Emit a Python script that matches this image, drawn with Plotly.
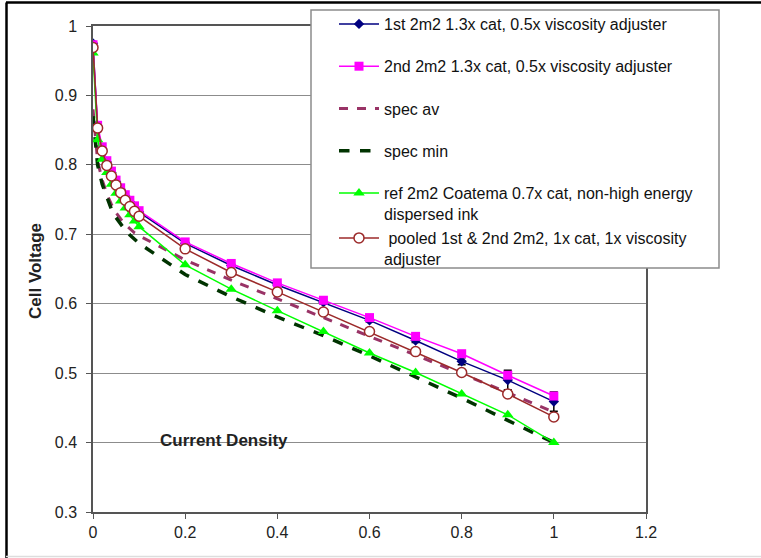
import plotly.graph_objects as go

# ---------------- data ----------------
x_vals = [0, 0.01, 0.02, 0.03, 0.04, 0.05, 0.06, 0.07, 0.08, 0.09, 0.1,
          0.2, 0.3, 0.4, 0.5, 0.6, 0.7, 0.8, 0.9, 1.0]

first_2m2 = [0.975, 0.852, 0.823, 0.804, 0.789, 0.776, 0.765, 0.755, 0.747, 0.739, 0.732,
             0.687, 0.655, 0.627, 0.602, 0.576, 0.547, 0.517, 0.490, 0.459]
first_err = [0, 0, 0, 0, 0, 0, 0, 0, 0, 0, 0,
             0.002, 0.002, 0.002, 0.002, 0.002, 0.003, 0.005, 0.014, 0.014]

second_2m2 = [0.973, 0.857, 0.826, 0.806, 0.791, 0.778, 0.767, 0.757, 0.749, 0.741, 0.734,
              0.689, 0.658, 0.630, 0.605, 0.580, 0.553, 0.528, 0.497, 0.467]

spec_av = [0.88, 0.806, 0.778, 0.758, 0.743, 0.731, 0.722, 0.714, 0.708, 0.702, 0.698,
           0.663, 0.634, 0.607, 0.580, 0.553, 0.527, 0.500, 0.472, 0.444]

spec_min = [0.87, 0.800, 0.772, 0.752, 0.736, 0.724, 0.714, 0.706, 0.699, 0.693, 0.687,
            0.642, 0.610, 0.581, 0.554, 0.525, 0.495, 0.464, 0.432, 0.400]

ref_coatema = [0.961, 0.836, 0.808, 0.789, 0.772, 0.759, 0.748, 0.738, 0.728, 0.719, 0.711,
               0.656, 0.621, 0.590, 0.560, 0.529, 0.501, 0.470, 0.440, 0.400]

pooled = [0.969, 0.853, 0.820, 0.799, 0.784, 0.771, 0.760, 0.749, 0.740, 0.733, 0.726,
          0.679, 0.645, 0.617, 0.588, 0.560, 0.531, 0.501, 0.470, 0.437]

names = [
    "1st 2m2 1.3x cat, 0.5x viscosity adjuster",
    "2nd 2m2 1.3x cat, 0.5x viscosity adjuster",
    "spec av",
    "spec min",
    "ref 2m2 Coatema 0.7x cat, non-high energy<br>dispersed ink",
    " pooled 1st & 2nd 2m2, 1x cat, 1x viscosity<br>adjuster",
]

x_ticks = [0, 0.2, 0.4, 0.6, 0.8, 1, 1.2]
y_ticks = [0.3, 0.4, 0.5, 0.6, 0.7, 0.8, 0.9, 1]

# ---------------- figure ----------------
fig = go.Figure()

fig.add_trace(go.Scatter(
    x=x_vals, y=first_2m2, name=names[0], mode="lines+markers",
    line=dict(color="#000080", width=1.5),
    marker=dict(symbol="diamond", size=8, color="#000080"),
    error_y=dict(type="data", array=first_err, color="#000000", thickness=1.5, width=4),
    legendgroup="g1", legend="legend"))

fig.add_trace(go.Scatter(
    x=x_vals, y=second_2m2, name=names[1], mode="lines+markers",
    line=dict(color="#FF00FF", width=1.5),
    marker=dict(symbol="square", size=9, color="#FF00FF"),
    legendgroup="g2", legend="legend"))

fig.add_trace(go.Scatter(
    x=x_vals, y=spec_av, name=names[2], mode="lines",
    line=dict(color="#993366", width=3, dash="dash"),
    legendgroup="g3", legend="legend"))

fig.add_trace(go.Scatter(
    x=x_vals, y=spec_min, name=names[3], mode="lines",
    line=dict(color="#003300", width=3.5, dash="dash"),
    legendgroup="g4", legend="legend"))

fig.add_trace(go.Scatter(
    x=x_vals, y=ref_coatema, name=names[4], mode="lines+markers",
    line=dict(color="#00FF00", width=1.5),
    marker=dict(symbol="triangle-up", size=10, color="#00FF00"),
    legendgroup="g5", legend="legend"))

fig.add_trace(go.Scatter(
    x=x_vals, y=pooled, name=names[5], mode="lines+markers",
    line=dict(color="#9C2A2A", width=1.5),
    marker=dict(symbol="circle", size=10, color="#FFFFFF",
                line=dict(color="#9C2A2A", width=1.5)),
    legendgroup="g6", legend="legend2"))

L, R, T, B = 93, 115, 26, 46
W, H = 761, 558
pw, ph = W - L - R, H - T - B


def px(xpix):
    return (xpix - L) / pw


def py(ypix):
    return (H - B - ypix) / ph


axis_common = dict(
    showline=True, linecolor="#555555", linewidth=1.5, mirror=True,
    ticks="outside", ticklen=5, tickcolor="#555555",
    tickfont=dict(family="Arial, Liberation Sans", size=16, color="#222222"),
    zeroline=False,
)

fig.update_xaxes(range=[0, 1.2], tickvals=x_ticks, showgrid=False, **axis_common)
fig.update_yaxes(range=[0.3, 1], tickvals=y_ticks, showgrid=True, gridcolor="#8c8c8c",
                 gridwidth=1, ticklabelstandoff=6, **axis_common)

legend_font = dict(family="Arial, Liberation Sans", size=16, color="#111111")

fig.update_layout(
    width=W, height=H,
    margin=dict(l=L, r=R, t=T, b=B, autoexpand=False),
    plot_bgcolor="#FFFFFF", paper_bgcolor="#FFFFFF",
    showlegend=True,
    legend=dict(x=px(334), y=py(7), xanchor="left", yanchor="top",
                bgcolor="rgba(0,0,0,0)", borderwidth=0, font=legend_font,
                tracegroupgap=18.5, valign="top", itemwidth=40),
    legend2=dict(x=px(334), y=py(221), xanchor="left", yanchor="top",
                 bgcolor="rgba(0,0,0,0)", borderwidth=0, font=legend_font,
                 valign="top", itemwidth=40),
    shapes=[
        # legend box
        dict(type="rect", xref="paper", yref="paper",
             x0=px(311), x1=px(719), y0=py(268), y1=py(10),
             line=dict(color="#8c8c8c", width=1.5), fillcolor="#FFFFFF", layer="above"),
        # outer frame (top and left)
        dict(type="line", xref="paper", yref="paper",
             x0=px(6), x1=px(761), y0=py(2.5), y1=py(2.5),
             line=dict(color="#000000", width=2.5)),
        dict(type="line", xref="paper", yref="paper",
             x0=px(6.5), x1=px(6.5), y0=py(2.5), y1=py(558),
             line=dict(color="#000000", width=2.5)),
        dict(type="line", xref="paper", yref="paper",
             x0=px(6), x1=px(761), y0=py(556.5), y1=py(556.5),
             line=dict(color="#dddddd", width=1.5)),
    ],
    annotations=[
        dict(text="<b>Cell Voltage</b>", xref="paper", yref="paper",
             x=px(35), y=py(271), textangle=-90, showarrow=False,
             font=dict(family="Arial, Liberation Sans", size=17, color="#222222"),
             xanchor="center", yanchor="middle"),
        dict(text="<b>Current Density</b>", xref="x", yref="y",
             x=0.284, y=0.403, showarrow=False,
             font=dict(family="Arial, Liberation Sans", size=17, color="#222222"),
             xanchor="center", yanchor="middle"),
    ],
)

fig.write_html("out.html")
